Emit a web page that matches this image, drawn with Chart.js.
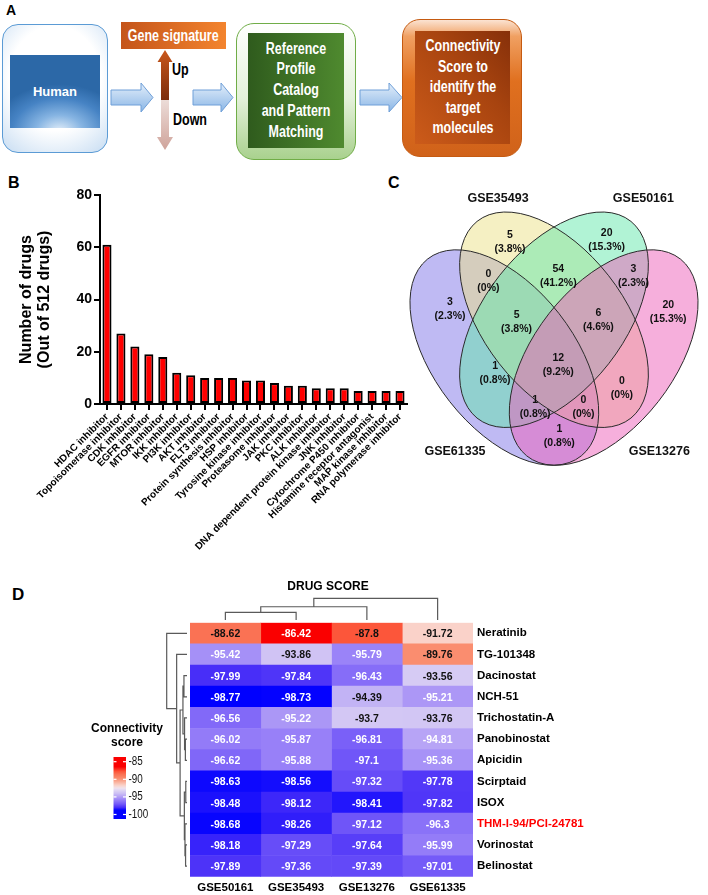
<!DOCTYPE html>
<html>
<head>
<meta charset="utf-8">
<title>Connectivity map figure</title>
<script src="https://cdn.jsdelivr.net/npm/chart.js@4.4.1/dist/chart.umd.min.js"></script>
<style>
  html, body { margin: 0; padding: 0; background: #fff; }
  #page { position: relative; width: 708px; height: 895px; overflow: hidden; font-family: 'Liberation Sans', Arial, Helvetica, sans-serif; }
  .abs { position: absolute; }
  .letter { position: absolute; font-weight: bold; line-height: 1; color: #000; }
  .box { position: absolute; box-sizing: border-box; }
  .center { display: flex; align-items: center; justify-content: center; }
  .nar { display: inline-block; transform: scaleX(0.78); font-weight: bold; font-size: 16px; white-space: nowrap; text-align: center; }
  canvas { position: absolute; }
</style>
</head>
<body>
<div id="page">
  <!-- Panel A: workflow (plain html) -->
  <div class="letter" style="left:6px;top:3px;font-size:14px">A</div>
  <div class="box" style="left:2px;top:24px;width:106px;height:129px;border:1.5px solid #5b9bd5;border-radius:16px;background:radial-gradient(ellipse 80% 75% at 50% 42%, #fff 55%, #c6dcf2 100%)"></div>
  <div class="box center" style="left:10px;top:55px;width:90px;height:73px;background:radial-gradient(ellipse 75% 65% at 55% 105%, #e6f0fa 0%, #86b4e2 35%, #4683c4 70%, #2c68a7 100%);color:#fff;font-weight:bold;font-size:13px">Human</div>

  <svg class="abs" style="left:0;top:0" width="708" height="170">
    <defs>
      <linearGradient id="gArrow" x1="0" y1="0" x2="0" y2="1">
        <stop offset="0" stop-color="#e3eefa"/><stop offset="1" stop-color="#8ab6e6"/>
      </linearGradient>
      <linearGradient id="gUp" x1="0" y1="0" x2="0" y2="1">
        <stop offset="0" stop-color="#c9571c"/><stop offset="1" stop-color="#7c2d0b"/>
      </linearGradient>
      <linearGradient id="gDown" x1="0" y1="0" x2="0" y2="1">
        <stop offset="0" stop-color="#ecdcd8"/><stop offset="1" stop-color="#cfa39a"/>
      </linearGradient>
    </defs>
    <path d="M111 90 H141 V83 L153 97.5 L141 112 V105 H111 Z" fill="url(#gArrow)" stroke="#6f9fd8"/>
    <path d="M193 90 H221 V83 L233 97.5 L221 112 V105 H193 Z" fill="url(#gArrow)" stroke="#6f9fd8"/>
    <path d="M360 90 H389 V83 L402 97.5 L389 112 V105 H360 Z" fill="url(#gArrow)" stroke="#6f9fd8"/>
    <path d="M165 50 L172.5 62 H169 V100 H161 V62 H157.5 Z" fill="url(#gUp)"/>
    <path d="M161 100 H169 V137 H173 L165 150 L157 137 H161 Z" fill="url(#gDown)"/>
  </svg>

  <div class="box center" style="left:121px;top:22px;width:105px;height:27px;background:linear-gradient(to right,#c4541a,#f3842e);color:#fff"><span class="nar">Gene signature</span></div>
  <div class="abs" style="left:172px;top:61px;color:#000"><span class="nar" style="transform-origin:left center">Up</span></div>
  <div class="abs" style="left:173px;top:111px;color:#000"><span class="nar" style="transform-origin:left center">Down</span></div>

  <div class="box" style="left:236px;top:23px;width:120px;height:137px;border:1.5px solid #70ad47;border-radius:18px;background:linear-gradient(#ffffff 0%, #e4f1da 55%, #a9d18e 100%)"></div>
  <div class="box center" style="left:248px;top:33px;width:96px;height:115px;background:linear-gradient(to right,#2f5b1d,#4f8a2f);color:#fff">
    <div class="nar" style="line-height:20.7px">Reference<br>Profile<br>Catalog<br>and Pattern<br>Matching</div>
  </div>

  <div class="box" style="left:402px;top:19px;width:120px;height:138px;border:1.5px solid #c55a11;border-radius:18px;background:linear-gradient(#fbe3d2 0%, #f0a062 12%, #e0701f 45%, #d0621a 100%)"></div>
  <div class="box center" style="left:415px;top:31px;width:95px;height:113px;background:linear-gradient(to top right,#cc5b1a 0%,#a8440f 60%,#86300a 100%);color:#fff">
    <div class="nar" style="line-height:20.4px">Connectivity<br>Score to<br>identify the<br>target<br>molecules</div>
  </div>

  <div class="letter" style="left:8px;top:175px;font-size:16px">B</div>
  <div class="letter" style="left:388px;top:175px;font-size:16px">C</div>
  <div class="letter" style="left:12px;top:586px;font-size:17px">D</div>

  <canvas id="chartB" width="415" height="410" style="left:0;top:170px"></canvas>
  <canvas id="chartC" width="348" height="310" style="left:360px;top:170px"></canvas>
  <canvas id="chartD" width="708" height="315" style="left:0;top:580px"></canvas>
</div>

<script>
const FONT = "'Liberation Sans', Arial, Helvetica, sans-serif";
Chart.defaults.font.family = FONT;
Chart.defaults.color = '#000';
Chart.defaults.animation = false;

// ---------- B: drug classes ----------
const drugClasses = [
  'HDAC inhibitor', 'Topoisomerase inhibitor', 'CDK inhibitor', 'EGFR inhibitor', 'MTOR inhibitor',
  'IKK inhibitor', 'PI3K inhibitor', 'AKT inhibitor', 'FLT3 inhibitor', 'Protein synthesis inhibitor',
  'HSP inhibitor', 'Tyrosine kinase inhibitor', 'Proteasome inhibitor', 'JAK inhibitor', 'PKC inhibitor',
  'ALK inhibitor', 'DNA dependent protein kinase inhibitor', 'JNK inhibitor', 'Cytochrome P450 inhibitor',
  'Histamine receptor antagonist', 'MAP kinase inhibitor', 'RNA polymerase inhibitor'
];
const drugCounts = [61, 27, 22, 19, 18, 12, 11, 10, 10, 10, 9, 9, 8, 7, 7, 6, 6, 6, 5, 5, 5, 5];
const countAxisMax = 80;
const countAxisStep = 20;

// ---------- C: venn ----------
const vennSets = ['GSE61335', 'GSE35493', 'GSE50161', 'GSE13276'];   // A, B, C, D
const vennRegions = ['A', 'B', 'C', 'D', 'AB', 'BC', 'CD', 'AC', 'BD', 'AD', 'ABC', 'BCD', 'ABCD', 'ACD', 'ABD'];
const vennCounts = [3, 5, 20, 20, 0, 54, 3, 1, 0, 1, 5, 6, 12, 1, 0];

// ---------- D: heatmap ----------
const hmCols = ['GSE50161', 'GSE35493', 'GSE13276', 'GSE61335'];
const hmRows = ['Neratinib', 'TG-101348', 'Dacinostat', 'NCH-51', 'Trichostatin-A', 'Panobinostat',
  'Apicidin', 'Scirptaid', 'ISOX', 'THM-I-94/PCI-24781', 'Vorinostat', 'Belinostat'];
const scoreGSE50161 = [-88.62, -95.42, -97.99, -98.77, -96.56, -96.02, -96.62, -98.63, -98.48, -98.68, -98.18, -97.89];
const scoreGSE35493 = [-86.42, -93.86, -97.84, -98.73, -95.22, -95.87, -95.88, -98.56, -98.12, -98.26, -97.29, -97.36];
const scoreGSE13276 = [-87.8, -95.79, -96.43, -94.39, -93.7, -96.81, -97.1, -97.32, -98.41, -97.12, -97.64, -97.39];
const scoreGSE61335 = [-91.72, -89.76, -93.56, -95.21, -93.76, -94.81, -95.36, -97.78, -97.82, -96.3, -95.99, -97.01];
const hmScores = [scoreGSE50161, scoreGSE35493, scoreGSE13276, scoreGSE61335];
const highlightDrug = 'THM-I-94/PCI-24781';
// dendrograms, R hclust style: negative = leaf index+1, positive = earlier merge
const colMerges = [[-1, -2, 0.35], [1, -3, 0.61], [2, -4, 1.0]];
const rowMerges = [
  [-6, -7, 0.08], [-5, 1, 0.12], [-3, -4, 0.15], [3, 2, 0.2],
  [-8, -9, 0.06], [-11, -12, 0.07], [-10, 6, 0.1], [5, 7, 0.13],
  [4, 8, 0.34], [-2, 9, 0.51], [-1, 10, 1.0]
];
const legendTicks = [-85, -90, -95, -100];

// colour ramp picked off the figure (blue -> lavender -> white -> red)
const heatStops = [
  [-98.77, [0, 0, 255]], [-98.0, [72, 46, 248]], [-97.0, [116, 90, 248]], [-96.0, [148, 124, 248]],
  [-95.0, [178, 158, 246]], [-94.0, [205, 192, 244]], [-93.0, [226, 216, 243]], [-92.5, [240, 226, 236]],
  [-91.7, [250, 210, 200]], [-89.8, [250, 142, 112]], [-88.6, [250, 114, 84]], [-87.8, [252, 86, 58]],
  [-86.42, [250, 0, 0]]
];
function heatColor(v) {
  const s = heatStops;
  if (v <= s[0][0]) return `rgb(${s[0][1].join(',')})`;
  for (let i = 1; i < s.length; i++) {
    if (v <= s[i][0]) {
      const [v0, c0] = s[i - 1], [v1, c1] = s[i];
      const t = (v - v0) / (v1 - v0);
      return `rgb(${c0.map((c, k) => Math.round(c + (c1[k] - c) * t)).join(',')})`;
    }
  }
  return `rgb(${s[s.length - 1][1].join(',')})`;
}

// ---------- chart B ----------
new Chart(document.getElementById('chartB'), {
  type: 'bar',
  data: {
    labels: drugClasses,
    datasets: [{
      data: drugCounts,
      backgroundColor: '#ff0000',
      borderColor: '#000',
      borderWidth: 2,
      borderSkipped: false,
      barPercentage: 0.65,
      categoryPercentage: 1
    }]
  },
  options: {
    responsive: false,
    layout: { padding: { top: 25, left: 14, right: 8, bottom: 0 } },
    plugins: { legend: { display: false }, tooltip: { enabled: false } },
    scales: {
      x: {
        grid: { display: true, offset: false, drawOnChartArea: false, tickLength: 6, color: '#000', lineWidth: 2 },
        border: { color: '#000', width: 2 },
        ticks: { autoSkip: false, minRotation: 45, maxRotation: 45, padding: 1, color: '#000', font: { size: 10, weight: 'bold' } },
        afterFit(s) { s.height = 176; }
      },
      y: {
        min: 0, max: countAxisMax,
        ticks: { stepSize: countAxisStep, padding: 2, color: '#000', font: { size: 14, weight: 'bold' } },
        grid: { drawOnChartArea: false, tickLength: 6, color: '#000', lineWidth: 2 },
        border: { color: '#000', width: 2 },
        title: { display: true, text: ['Number of drugs', '(Out of 512 drugs)'], color: '#000', font: { size: 16, weight: 'bold', lineHeight: 1.1 } },
        afterFit(s) { s.width = 86; }
      }
    }
  }
});

// ---------- chart C (venn on hidden linear scales) ----------
const vennShapes = [   // unit-square ellipses, same layout as VennDiagram quad
  { cx: 0.35, cy: 0.47, rot: 45, fill: 'rgba(128,118,232,0.5)' },
  { cx: 0.50, cy: 0.57, rot: 45, fill: 'rgba(236,226,136,0.5)' },
  { cx: 0.50, cy: 0.57, rot: -45, fill: 'rgba(100,232,172,0.5)' },
  { cx: 0.65, cy: 0.47, rot: -45, fill: 'rgba(238,96,186,0.5)' }
];
const vennLabelPos = {
  A: [0.186, 0.598], B: [0.367, 0.776], C: [0.659, 0.781], D: [0.845, 0.591],
  AB: [0.302, 0.671], BC: [0.513, 0.686], CD: [0.740, 0.686], AC: [0.322, 0.428],
  BD: [0.705, 0.389], AD: [0.516, 0.261], ABC: [0.387, 0.565], BCD: [0.634, 0.569],
  ABCD: [0.513, 0.450], ACD: [0.443, 0.340], ABD: [0.589, 0.340]
};
const vennSetPos = [[0.201, 0.221], [0.331, 0.891], [0.770, 0.891], [0.818, 0.221]];

const vennPlugin = {
  id: 'venn',
  afterDraw(chart) {
    const { ctx, scales: { x, y } } = chart;
    const sx = x.getPixelForValue(1) - x.getPixelForValue(0);
    const sy = y.getPixelForValue(0) - y.getPixelForValue(1);
    const path = e => {
      ctx.save();
      ctx.translate(x.getPixelForValue(e.cx), y.getPixelForValue(e.cy));
      ctx.scale(sx, sy);
      ctx.rotate(e.rot * Math.PI / 180);
      ctx.beginPath();
      ctx.ellipse(0, 0, 0.35, 0.2, 0, 0, Math.PI * 2);
      ctx.restore();
    };
    vennShapes.forEach(e => { path(e); ctx.fillStyle = e.fill; ctx.fill(); });
    ctx.strokeStyle = '#2a2a2a';
    ctx.lineWidth = 1;
    vennShapes.forEach(e => { path(e); ctx.stroke(); });

    const total = vennCounts.reduce((a, b) => a + b, 0);
    ctx.fillStyle = '#111';
    ctx.textAlign = 'center';
    ctx.textBaseline = 'middle';
    ctx.font = `bold 10.5px ${FONT}`;
    vennRegions.forEach((r, i) => {
      const n = vennCounts[i];
      const pct = n === 0 ? '0%' : (n / total * 100).toFixed(1) + '%';
      const px = x.getPixelForValue(vennLabelPos[r][0]);
      const py = y.getPixelForValue(vennLabelPos[r][1]);
      ctx.fillText(String(n), px, py - 7);
      ctx.fillText(`(${pct})`, px, py + 7);
    });
    ctx.font = `bold 12.5px ${FONT}`;
    vennSets.forEach((s, i) => {
      ctx.fillText(s, x.getPixelForValue(vennSetPos[i][0]), y.getPixelForValue(vennSetPos[i][1]));
    });
  }
};

new Chart(document.getElementById('chartC'), {
  type: 'scatter',
  data: { datasets: [] },
  options: {
    responsive: false,
    layout: { padding: { left: 45, right: 5, top: 25, bottom: 1.5 } },
    plugins: { legend: { display: false }, tooltip: { enabled: false } },
    scales: {
      x: { type: 'linear', min: 0.05, max: 0.95, display: false },
      y: { type: 'linear', min: 0.15, max: 0.9, display: false }
    }
  },
  plugins: [vennPlugin]
});

// ---------- chart D (heatmap as stacked horizontal bars) ----------
function drawDendro(ctx, merges, leafPos, toPx) {
  const nodes = [];
  const get = ref => ref < 0 ? { pos: leafPos(-ref - 1), h: 0 } : nodes[ref - 1];
  ctx.beginPath();
  merges.forEach(([a, b, h]) => {
    const A = get(a), B = get(b);
    ctx.moveTo(...toPx(A.pos, A.h));
    ctx.lineTo(...toPx(A.pos, h));
    ctx.lineTo(...toPx(B.pos, h));
    ctx.lineTo(...toPx(B.pos, B.h));
    nodes.push({ pos: (A.pos + B.pos) / 2, h });
  });
  ctx.stroke();
}

const heatPlugin = {
  id: 'heatExtras',
  afterDatasetsDraw(chart) {
    const ctx = chart.ctx;
    ctx.save();
    ctx.font = `bold 10.5px ${FONT}`;
    ctx.textAlign = 'center';
    ctx.textBaseline = 'middle';
    hmScores.forEach((col, di) => {
      const meta = chart.getDatasetMeta(di);
      meta.data.forEach((bar, ri) => {
        const v = col[ri];
        ctx.fillStyle = (v < -94.6 || v > -87) ? '#fff' : '#111';
        ctx.fillText(String(v), (bar.x + bar.base) / 2, bar.y + 1);
      });
    });
    ctx.restore();
  },
  afterDraw(chart) {
    const { ctx, chartArea: area, scales: { x, y } } = chart;
    ctx.save();
    ctx.strokeStyle = '#5a5a5a';
    ctx.lineWidth = 1.2;
    drawDendro(ctx, colMerges, i => x.getPixelForValue(i + 0.5), (p, h) => [p, area.top - 2.7 - h * 21.7]);
    drawDendro(ctx, rowMerges, i => y.getPixelForValue(i), (p, h) => [area.left - 3 - h * 20.3, p]);

    ctx.fillStyle = '#000';
    ctx.textAlign = 'center';
    ctx.textBaseline = 'middle';
    ctx.font = `bold 12px ${FONT}`;
    ctx.fillText('DRUG SCORE', 328, 7);
    ctx.fillText('Connectivity', 127, 148.5);
    ctx.fillText('score', 127, 163);

    // colour key
    const ky = v => 181.7 + (-85 - v) * 3.52;
    for (let py = 177; py < 239; py++) {
      ctx.fillStyle = heatColor(-85 - (py + 0.5 - 181.7) / 3.52);
      ctx.fillRect(113.5, py, 12.5, 1);
    }
    legendTicks.forEach(t => {
      const ty = ky(t);
      ctx.fillStyle = '#fff';
      ctx.fillRect(113.5, ty - 0.6, 3, 1.2);
      ctx.fillRect(123, ty - 0.6, 3, 1.2);
      ctx.save();
      ctx.translate(128.5, ty);
      ctx.scale(0.82, 1);
      ctx.fillStyle = '#111';
      ctx.textAlign = 'left';
      ctx.font = `12px ${FONT}`;
      ctx.fillText(String(t), 0, 0);
      ctx.restore();
    });
    ctx.restore();
  }
};

new Chart(document.getElementById('chartD'), {
  type: 'bar',
  data: {
    labels: hmRows,
    datasets: hmScores.map((col, i) => ({
      label: hmCols[i],
      data: col.map(() => 1),
      backgroundColor: col.map(heatColor),
      borderWidth: 0,
      barPercentage: 1,
      categoryPercentage: 1
    }))
  },
  options: {
    indexAxis: 'y',
    responsive: false,
    layout: { padding: { left: 190, top: 42.7, right: 0, bottom: 0 } },
    plugins: { legend: { display: false }, tooltip: { enabled: false } },
    scales: {
      x: {
        type: 'linear', min: 0, max: hmCols.length, stacked: true,
        grid: { display: false, drawTicks: false }, border: { display: false },
        afterBuildTicks(s) { s.ticks = hmCols.map((c, i) => ({ value: i + 0.5 })); },
        ticks: { autoSkip: false, maxRotation: 0, padding: 4, color: '#000', font: { size: 11.5, weight: 'bold' },
                 callback: (v, i) => hmCols[i] },
        afterFit(s) { s.height = 18.3; }
      },
      y: {
        position: 'right', stacked: true,
        grid: { display: false, drawTicks: false }, border: { display: false },
        ticks: { padding: 4, font: { size: 11.5, weight: 'bold' },
                 color: c => hmRows[c.index] === highlightDrug ? '#ff0000' : '#000' },
        afterFit(s) { s.width = 235; }
      }
    }
  },
  plugins: [heatPlugin]
});
</script>
</body>
</html>
